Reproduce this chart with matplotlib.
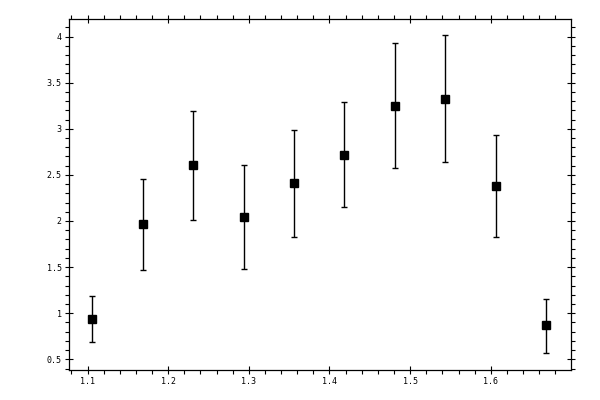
import matplotlib
matplotlib.use("Agg")
import matplotlib.pyplot as plt
from matplotlib.ticker import MultipleLocator

x = [1.106, 1.1685, 1.231, 1.2935, 1.356, 1.4185, 1.481, 1.5435, 1.606, 1.6685]
y = [0.934, 1.966, 2.607, 2.042, 2.411, 2.715, 3.247, 3.323, 2.378, 0.869]
y_hi = [1.19, 2.45, 3.19, 2.607, 2.99, 3.29, 3.93, 4.018, 2.932, 1.158]
y_lo = [0.685, 1.47, 2.009, 1.48, 1.825, 2.15, 2.577, 2.639, 1.825, 0.565]

err_lo = [v - l for v, l in zip(y, y_lo)]
err_hi = [h - v for v, h in zip(y, y_hi)]

fig = plt.figure(figsize=(6, 4), dpi=100)
ax = fig.add_axes([0.115, 0.075, 0.836, 0.8775])

ax.errorbar(x, y, yerr=[err_lo, err_hi], fmt='s', color='black',
            markersize=5.8, elinewidth=1.0, capsize=1.9, capthick=1.0)

ax.set_xlim(1.077, 1.699)
ax.set_ylim(0.384, 4.19)

ax.xaxis.set_major_locator(MultipleLocator(0.1))
ax.xaxis.set_minor_locator(MultipleLocator(0.02))
ax.yaxis.set_major_locator(MultipleLocator(0.5))
ax.yaxis.set_minor_locator(MultipleLocator(0.1))

ax.xaxis.set_major_formatter(plt.FuncFormatter(lambda v, p: f"{v:g}"))
ax.yaxis.set_major_formatter(plt.FuncFormatter(lambda v, p: f"{v:g}"))

ax.tick_params(which='major', direction='inout', length=5.8, width=0.8,
               top=True, right=True, labelsize=6, pad=2.5)
ax.tick_params(which='minor', direction='out', length=2.6, width=0.8,
               top=True, right=True)
for lab in ax.get_xticklabels() + ax.get_yticklabels():
    lab.set_family('DejaVu Sans Mono')

for s in ax.spines.values():
    s.set_linewidth(0.9)

fig.savefig("out.png", dpi=100)
